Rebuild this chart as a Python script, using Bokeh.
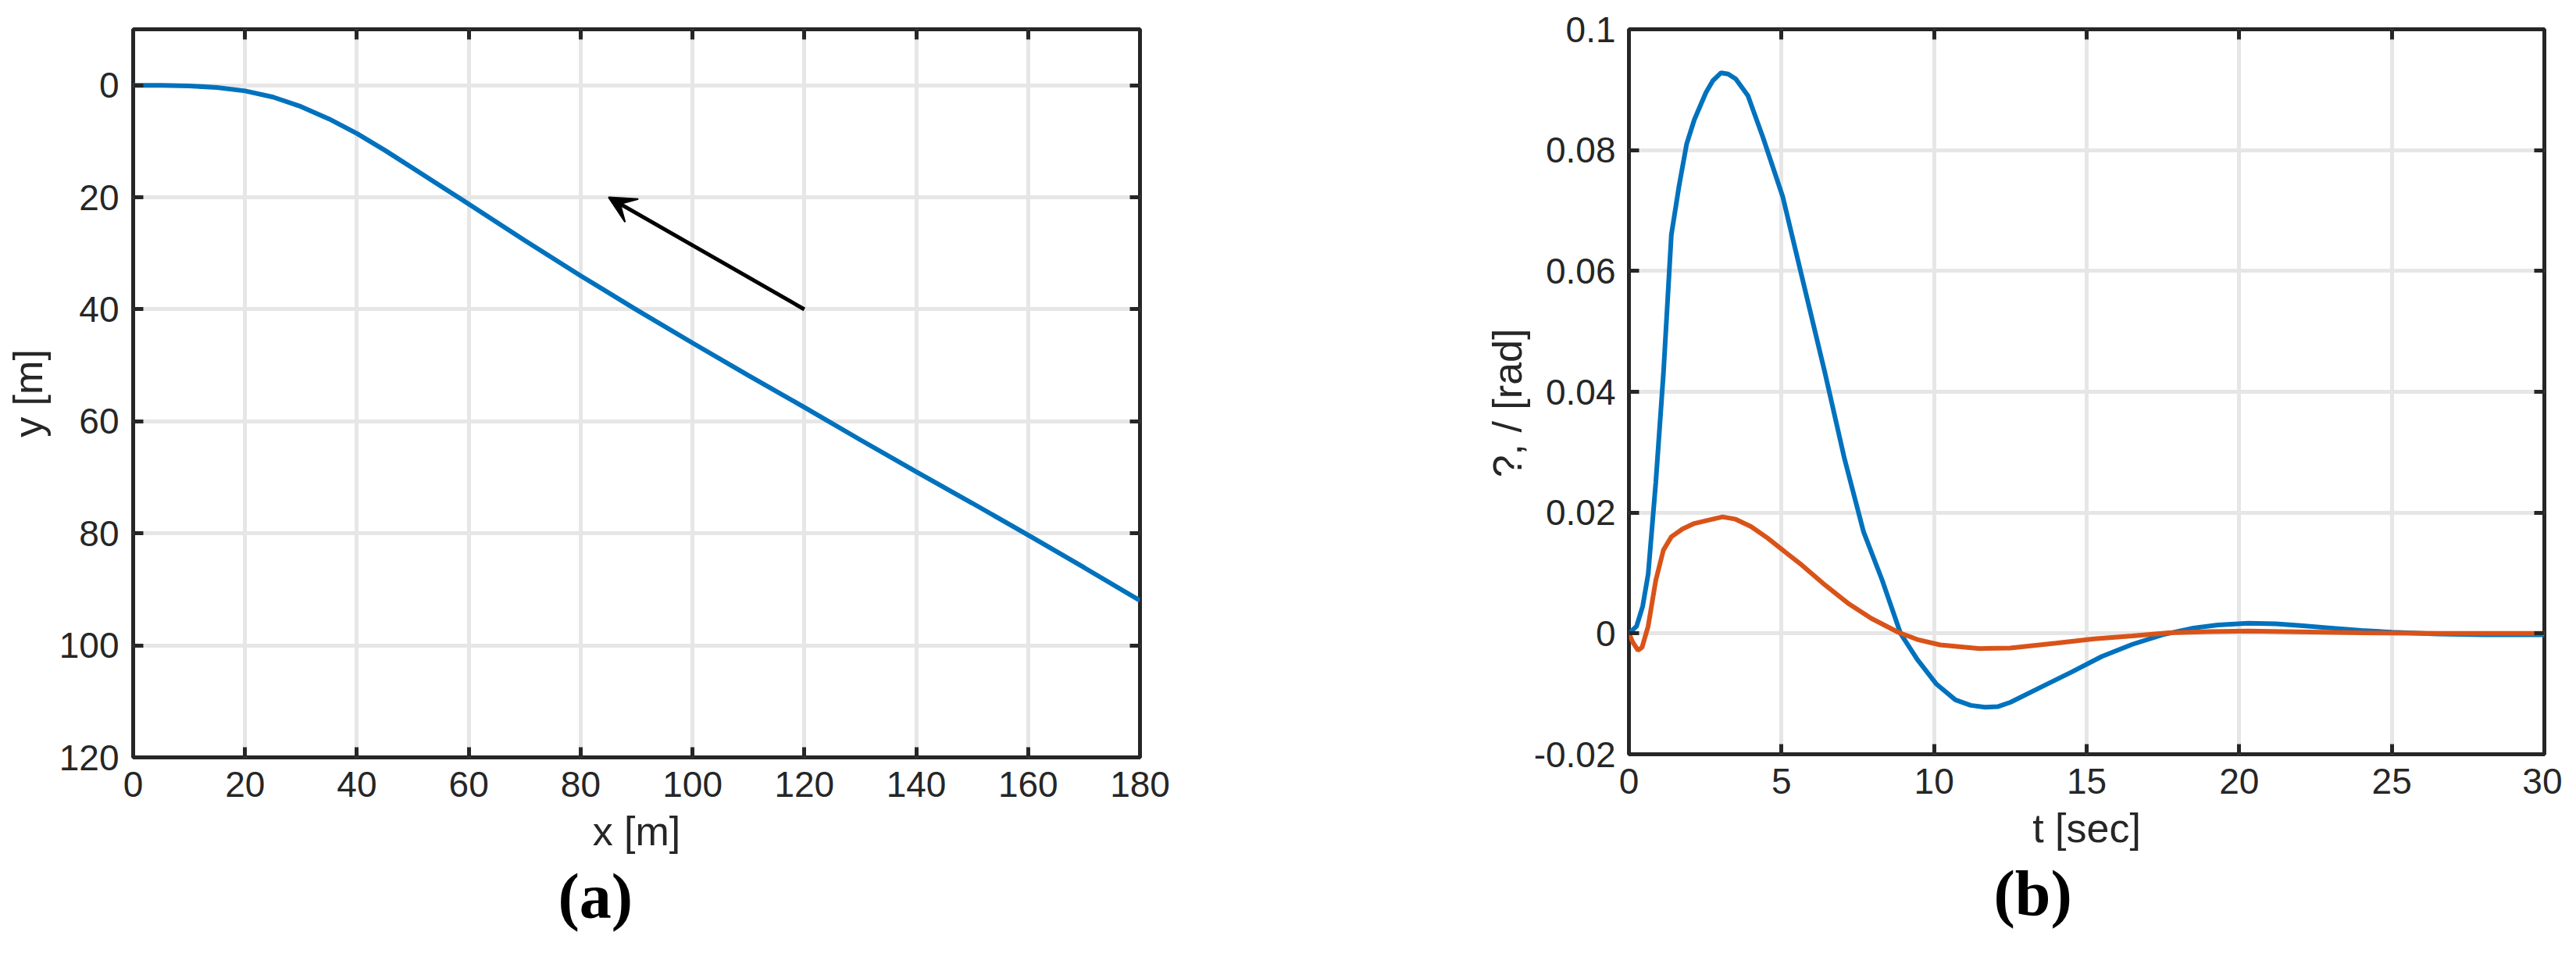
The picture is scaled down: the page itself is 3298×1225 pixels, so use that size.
from bokeh.plotting import figure
from bokeh.layouts import row
from bokeh.models import (Range1d, LinearAxis, FixedTicker, Arrow, VeeHead, Title,
                          CustomLabelingPolicy)
from bokeh.embed import file_html
from bokeh.resources import INLINE

# ---------------- data ----------------
# (a) path
path_x = [0, 5, 10, 15, 20, 25, 30, 35, 40, 45, 50, 55, 60, 70, 80, 90, 100,
          110, 120, 130, 140, 150, 160, 170, 180]
path_y = [0, 0, 0.1, 0.4, 1.0, 2.1, 3.8, 6.0, 8.6, 11.6, 14.8, 18.0, 21.2,
          27.7, 34.0, 40.1, 46.0, 51.8, 57.5, 63.3, 69.0, 74.6, 80.3, 86.1, 92.0]
arrow_tail = (120, 40)
arrow_head = (85, 20)
xticks_a = [0, 20, 40, 60, 80, 100, 120, 140, 160, 180]
yticks_a = [0, 20, 40, 60, 80, 100, 120]

# (b) responses
t_blue = [0, 0.25, 0.45, 0.63, 0.88, 1.13, 1.39, 1.64, 1.89, 2.14, 2.52, 2.75,
          3.02, 3.25, 3.5, 3.9, 4.4, 5.04, 5.67, 6.43, 7.06, 7.69, 8.3, 8.9,
          9.45, 10.08, 10.7, 11.2, 11.67, 12.1, 12.5, 13.5, 14.5, 15.5, 16.5,
          17.5, 18.5, 19.3, 20.3, 21.2, 22.0, 23.0, 24.0, 25.0, 26.5, 28.0, 30.0]
blue = [0, 0.0012, 0.0045, 0.0098, 0.025, 0.043, 0.066, 0.074, 0.081, 0.085,
        0.0895, 0.0915, 0.0928, 0.0926, 0.0918, 0.089, 0.082, 0.0723, 0.059,
        0.043, 0.029, 0.0168, 0.0088, 0.0, -0.0043, -0.0084, -0.011, -0.0119,
        -0.0122, -0.0121, -0.0114, -0.0089, -0.0064, -0.0038, -0.0018, -0.0002,
        0.0009, 0.0014, 0.0017, 0.0016, 0.0013, 0.0009, 0.0005, 0.0002,
        -0.0001, -0.0002, -0.0002]
t_orange = [0, 0.13, 0.3, 0.43, 0.63, 0.88, 1.13, 1.39, 1.76, 2.14, 2.65, 3.07,
            3.5, 4.0, 4.54, 5.04, 5.67, 6.43, 7.18, 7.94, 8.82, 9.45, 10.2,
            11.5, 12.5, 14.0, 15.25, 16.5, 17.7, 19.0, 20.3, 21.5, 24.0, 26.6, 30.0]
orange = [0, -0.0015, -0.0028, -0.0023, 0.0012, 0.0088, 0.0138, 0.016, 0.0173,
          0.0182, 0.0188, 0.0193, 0.0189, 0.0177, 0.0158, 0.0138, 0.0113,
          0.008, 0.005, 0.0025, 0.0002, -0.001, -0.0019, -0.0025, -0.0024,
          -0.0016, -0.0009, -0.0004, 0.0001, 0.0003, 0.0004, 0.0003, 0.0001,
          0.0, 0.0]
xticks_b = [0, 5, 10, 15, 20, 25, 30]
yticks_b = [-0.02, 0, 0.02, 0.04, 0.06, 0.08, 0.1]
ytick_labels_b = ["-0.02", "0", "0.02", "0.04", "0.06", "0.08", "0.1"]

# ---------------- style ----------------
DARK = "#262626"
FONT = "Liberation Sans"
SERIF = "Liberation Serif"
BLUE = "#0072BD"
ORANGE = "#D95319"


def style(p, xt, yt):
    p.outline_line_color = DARK
    p.outline_line_width = 5
    p.background_fill_color = "white"
    p.border_fill_color = "white"
    for ax in p.xaxis:
        ax.ticker = FixedTicker(ticks=xt)
    for ax in p.yaxis:
        ax.ticker = FixedTicker(ticks=yt)
    for ax in list(p.xaxis) + list(p.yaxis):
        ax.axis_line_color = None
        ax.major_tick_in = 13
        ax.major_tick_out = 0
        ax.major_tick_line_width = 5
        ax.major_tick_line_color = DARK
        ax.minor_tick_line_color = None
        ax.major_label_text_font = FONT
        ax.major_label_text_font_size = "46px"
        ax.major_label_text_color = DARK
        ax.axis_label_text_font = FONT
        ax.axis_label_text_font_size = "52px"
        ax.axis_label_text_font_style = "normal"
        ax.axis_label_text_color = DARK
    p.xgrid.grid_line_color = "#e6e6e6"
    p.ygrid.grid_line_color = "#e6e6e6"
    p.xgrid.grid_line_width = 5
    p.ygrid.grid_line_width = 5


HIDE_LABELS = "for (const i of Array.from(indices)) { indices.unset(i) }\nreturn indices"


def add_mirror_axes(p, xt, yt):
    top = LinearAxis(ticker=FixedTicker(ticks=xt))
    right = LinearAxis(ticker=FixedTicker(ticks=yt))
    for ax in (top, right):
        ax.axis_line_color = None
        ax.major_tick_in = 13
        ax.major_tick_out = 0
        ax.major_tick_line_width = 5
        ax.major_tick_line_color = DARK
        ax.minor_tick_line_color = None
        ax.major_label_text_font_size = "8px"
        ax.major_label_standoff = 0
        ax.major_label_policy = CustomLabelingPolicy(code=HIDE_LABELS)
    p.add_layout(top, "above")
    p.add_layout(right, "right")


def panel_title(p, text, offset):
    p.add_layout(Title(text=text, align="left", offset=offset, standoff=8,
                       text_font=SERIF, text_font_size="82px",
                       text_font_style="bold", text_color="black"), "below")


# ---------------- (a) ----------------
pa = figure(frame_width=1289, frame_height=932, output_backend="svg",
            toolbar_location=None, x_range=Range1d(0, 180), y_range=Range1d(120, -10),
            min_border_left=170, min_border_right=150, min_border_top=37,
            min_border_bottom=240)
pa.line(path_x, path_y, line_color=BLUE, line_width=6)
pa.add_layout(Arrow(end=VeeHead(size=34, fill_color="black", line_color="black", line_width=2),
                    x_start=arrow_tail[0], y_start=arrow_tail[1],
                    x_end=arrow_head[0], y_end=arrow_head[1],
                    line_color="black", line_width=5))
pa.xaxis.axis_label = "x [m]"
pa.yaxis.axis_label = "y [m]"
style(pa, xticks_a, yticks_a)
pa.xaxis.major_label_standoff = 18
pa.yaxis.major_label_standoff = 18
pa.xaxis.axis_label_standoff = 12
pa.yaxis.axis_label_standoff = 8
add_mirror_axes(pa, xticks_a, yticks_a)
panel_title(pa, "(a)", 544)

# ---------------- (b) ----------------
pb = figure(frame_width=1172, frame_height=928, output_backend="svg",
            toolbar_location=None, x_range=Range1d(0, 30), y_range=Range1d(-0.02, 0.1),
            min_border_left=476, min_border_right=20, min_border_top=36,
            min_border_bottom=245)
pb.line(t_blue, blue, line_color=BLUE, line_width=6)
pb.line(t_orange, orange, line_color=ORANGE, line_width=6)
pb.xaxis.axis_label = "t [sec]"
pb.yaxis.axis_label = "?,  /  [rad]"
style(pb, xticks_b, yticks_b)
pb.yaxis.major_label_overrides = {v: s for v, s in zip(yticks_b, ytick_labels_b)}
pb.xaxis.major_label_standoff = 18
pb.yaxis.major_label_standoff = 17
pb.xaxis.axis_label_standoff = 12
pb.yaxis.axis_label_standoff = 2
add_mirror_axes(pb, xticks_b, yticks_b)
panel_title(pb, "(b)", 467)

layout = row(pa, pb)
open("out.html", "w").write(file_html(layout, INLINE))
